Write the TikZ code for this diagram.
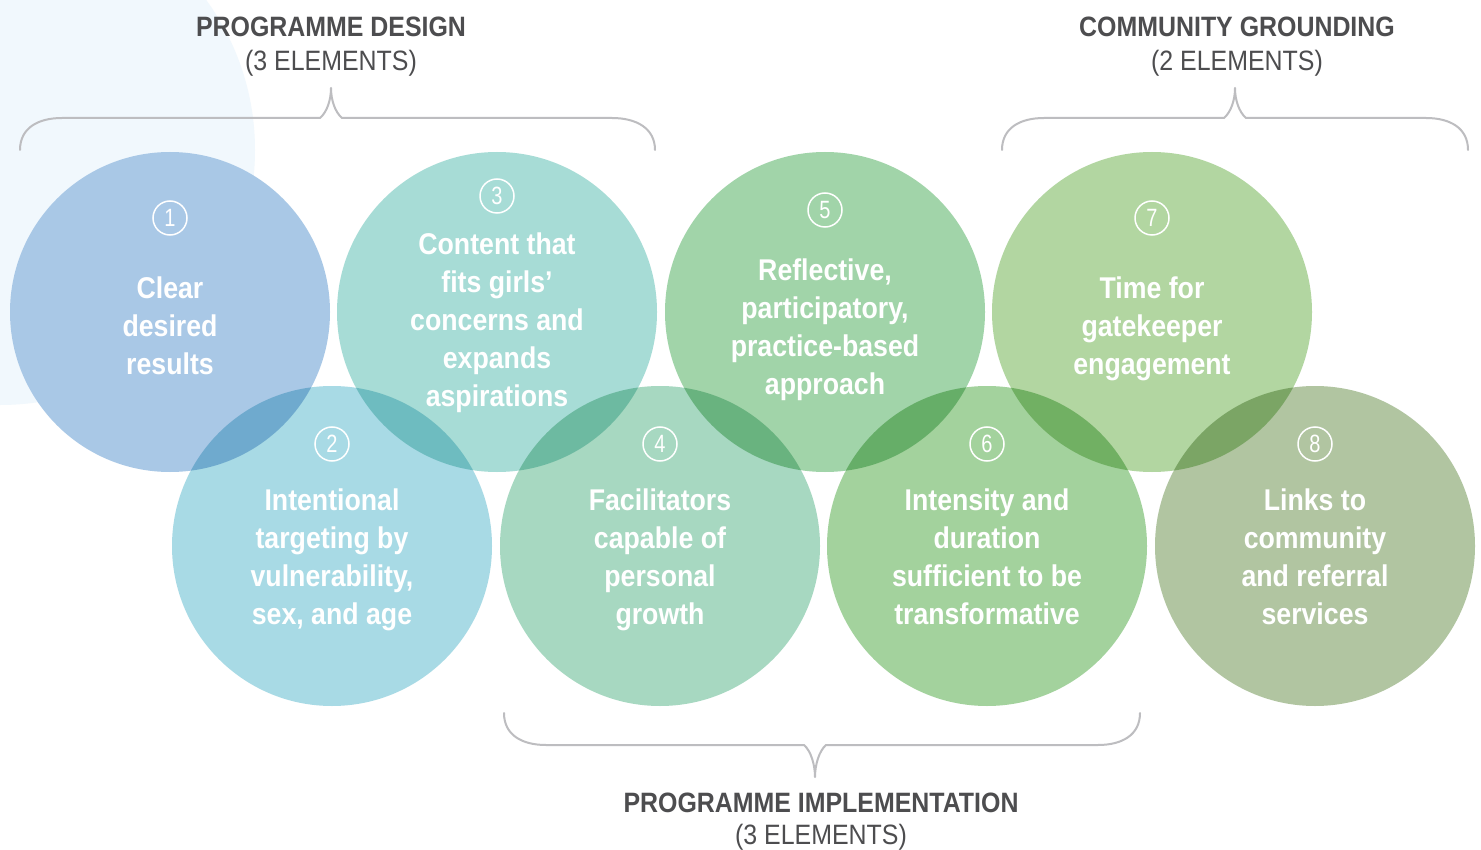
\documentclass[tikz,border=0pt]{standalone}
\usepackage{fontspec}
\usepackage{graphicx}
\setmainfont{Liberation Sans}
\usetikzlibrary{calc}
\definecolor{bgblue}{HTML}{F1F8FD}
\definecolor{cA}{HTML}{A9C8E6}
\definecolor{cB}{HTML}{A8DAE5}
\definecolor{cC}{HTML}{A7DCD6}
\definecolor{cD}{HTML}{A7D8C1}
\definecolor{cE}{HTML}{A1D4A9}
\definecolor{cF}{HTML}{A3D29D}
\definecolor{cG}{HTML}{B2D6A1}
\definecolor{cH}{HTML}{B1C5A1}
\definecolor{headgray}{HTML}{4D4D4F}
\definecolor{bracegray}{HTML}{BDBDC0}
\newcommand{\cnd}[1]{\scalebox{0.89}[1]{\begin{tabular}{@{}c@{}}#1\end{tabular}}}
\newcommand{\hsq}[1]{\scalebox{0.89}[1]{#1}}
\tikzset{
  bigcirc/.style={circle, minimum size=320pt, inner sep=0pt, draw=none},
  numcirc/.style={circle, draw=white, line width=1.5pt, minimum size=34pt, inner sep=0pt,
     text=white, font=\fontsize{25}{25}\selectfont},
  ctext/.style={text=white, font=\bfseries\fontsize{30}{38}\selectfont, inner sep=0pt},
  headb/.style={text=headgray, font=\bfseries\fontsize{28}{28}\selectfont, inner sep=0pt},
  headr/.style={text=headgray, font=\fontsize{28}{28}\selectfont, inner sep=0pt},
  bracel/.style={draw=bracegray, line width=2pt, line cap=round, line join=round}
}
\begin{document}
\begin{tikzpicture}[x=1pt,y=-1pt]
\useasboundingbox (0,0) rectangle (1481,850);
\fill[white] (0,0) rectangle (1481,850);
% background light circle
\begin{scope}
\clip (0,0) rectangle (1481,850);
\fill[bgblue] (0,150) circle[radius=255];
\end{scope}
% circles
\node[bigcirc, fill=cA] (c1) at (170,312) {};
\begin{scope}[blend mode=multiply]
\node[bigcirc, fill=cC] (c3) at (497,312) {};
\node[bigcirc, fill=cE] (c5) at (825,312) {};
\node[bigcirc, fill=cG] (c7) at (1152,312) {};
\node[bigcirc, fill=cB] (c2) at (332,546) {};
\node[bigcirc, fill=cD] (c4) at (660,546) {};
\node[bigcirc, fill=cF] (c6) at (987,546) {};
\node[bigcirc, fill=cH] (c8) at (1315,546) {};
\end{scope}
% numbers
\node[numcirc] (n1) at (170,218) {\scalebox{0.8}[1]{1}};
\node[numcirc] (n3) at (497,196) {\scalebox{0.8}[1]{3}};
\node[numcirc] (n5) at (825,210) {\scalebox{0.8}[1]{5}};
\node[numcirc] (n7) at (1152,218) {\scalebox{0.8}[1]{7}};
\node[numcirc] (n2) at (332,444) {\scalebox{0.8}[1]{2}};
\node[numcirc] (n4) at (660,444) {\scalebox{0.8}[1]{4}};
\node[numcirc] (n6) at (987,444) {\scalebox{0.8}[1]{6}};
\node[numcirc] (n8) at (1315,444) {\scalebox{0.8}[1]{8}};
% texts
\node[ctext] (t1) at (170,329) {\cnd{Clear\\desired\\results}};
\node[ctext] (t3) at (497,323) {\cnd{Content that\\fits girls’\\concerns and\\expands\\aspirations}};
\node[ctext] (t5) at (825,330) {\cnd{Reflective,\\participatory,\\practice-based\\approach}};
\node[ctext] (t7) at (1152,329) {\cnd{Time for\\gatekeeper\\engagement}};
\node[ctext] (t2) at (332,560) {\cnd{Intentional\\targeting by\\vulnerability,\\sex, and age}};
\node[ctext] (t4) at (660,560) {\cnd{Facilitators\\capable of\\personal\\growth}};
\node[ctext] (t6) at (987,560) {\cnd{Intensity and\\duration\\sufficient to be\\transformative}};
\node[ctext] (t8) at (1315,560) {\cnd{Links to\\community\\and referral\\services}};
% headers
\node[headb] (h1) at (331,27) {\hsq{PROGRAMME DESIGN}};
\node[headr] (h1s) at (331,63) {\hsq{(3 ELEMENTS)}};
\node[headb] (h2) at (1237,27) {\hsq{COMMUNITY GROUNDING}};
\node[headr] (h2s) at (1237,63) {\hsq{(2 ELEMENTS)}};
\node[headb] (h3) at (821,803) {\hsq{PROGRAMME IMPLEMENTATION}};
\node[headr] (h3s) at (821,837) {\hsq{(3 ELEMENTS)}};
% braces
\draw[bracel] (20,150) .. controls (20,128) and (38,118) .. (62,118) -- (320,118)
  .. controls (327,112) and (331,100) .. (331,88)
  .. controls (331,100) and (335,112) .. (342,118) -- (612,118)
  .. controls (636,118) and (655,128) .. (655,150);
\draw[bracel] (1002,150) .. controls (1002,128) and (1020,118) .. (1044,118) -- (1224,118)
  .. controls (1231,112) and (1235,100) .. (1235,88)
  .. controls (1235,100) and (1239,112) .. (1246,118) -- (1426,118)
  .. controls (1450,118) and (1468,128) .. (1468,150);
\draw[bracel] (504,713) .. controls (504,735) and (522,745) .. (546,745) -- (804,745)
  .. controls (811,751) and (815,765) .. (815,777)
  .. controls (815,765) and (819,751) .. (826,745) -- (1098,745)
  .. controls (1122,745) and (1140,735) .. (1140,713);
\end{tikzpicture}
\end{document}
